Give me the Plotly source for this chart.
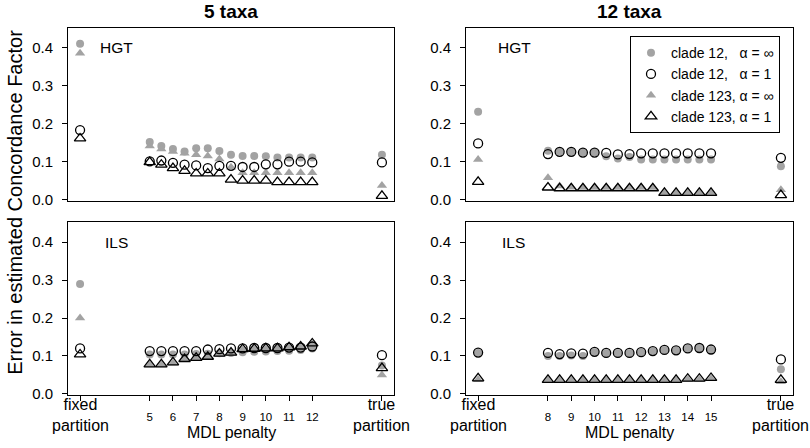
import plotly.graph_objects as go

# ---------------- data ----------------
mdl_5taxa = [5, 5.5, 6, 6.5, 7, 7.5, 8, 8.5, 9, 9.5, 10, 10.5, 11, 11.5, 12]
mdl_12taxa = [8, 8.5, 9, 9.5, 10, 10.5, 11, 11.5, 12, 12.5, 13, 13.5, 14, 14.5, 15]
fixed_5taxa, true_5taxa = 2, 15
fixed_12taxa, true_12taxa = 5, 18
tick_5taxa = [5, 6, 7, 8, 9, 10, 11, 12]
tick_12taxa = [8, 9, 10, 11, 12, 13, 14, 15]
y_ticks = [0.0, 0.1, 0.2, 0.3, 0.4]

# each series: fixed partition, MDL penalties..., true partition
hgt5_c12_inf = [0.410, 0.152, 0.141, 0.133, 0.127, 0.135, 0.135, 0.128, 0.118, 0.115, 0.115, 0.114, 0.111, 0.111, 0.111, 0.111, 0.118]
hgt5_c12_one = [0.183, 0.101, 0.103, 0.097, 0.092, 0.090, 0.083, 0.089, 0.089, 0.086, 0.086, 0.093, 0.093, 0.100, 0.100, 0.098, 0.098]
hgt5_c123_inf = [0.385, 0.141, 0.133, 0.127, 0.122, 0.118, 0.115, 0.107, 0.085, 0.071, 0.071, 0.071, 0.071, 0.071, 0.071, 0.071, 0.037]
hgt5_c123_one = [0.161, 0.099, 0.092, 0.083, 0.076, 0.069, 0.069, 0.069, 0.053, 0.050, 0.050, 0.050, 0.046, 0.046, 0.046, 0.046, 0.010]

hgt12_c12_inf = [0.231, 0.129, 0.127, 0.126, 0.124, 0.124, 0.114, 0.108, 0.112, 0.106, 0.106, 0.106, 0.106, 0.106, 0.106, 0.106, 0.088]
hgt12_c12_one = [0.148, 0.120, 0.126, 0.126, 0.124, 0.124, 0.123, 0.119, 0.120, 0.122, 0.122, 0.122, 0.122, 0.122, 0.122, 0.122, 0.110]
hgt12_c123_inf = [0.106, 0.058, 0.036, 0.033, 0.032, 0.032, 0.032, 0.032, 0.032, 0.032, 0.032, 0.017, 0.017, 0.017, 0.017, 0.017, 0.026]
hgt12_c123_one = [0.047, 0.032, 0.030, 0.030, 0.030, 0.030, 0.030, 0.030, 0.030, 0.030, 0.030, 0.018, 0.018, 0.018, 0.018, 0.018, 0.012]

ils5_c12_inf = [0.290, 0.104, 0.104, 0.104, 0.104, 0.105, 0.106, 0.107, 0.108, 0.110, 0.111, 0.112, 0.113, 0.114, 0.116, 0.120, 0.075]
ils5_c12_one = [0.120, 0.113, 0.113, 0.113, 0.113, 0.113, 0.117, 0.118, 0.120, 0.120, 0.121, 0.121, 0.121, 0.122, 0.122, 0.125, 0.102]
ils5_c123_inf = [0.200, 0.076, 0.076, 0.081, 0.090, 0.093, 0.096, 0.104, 0.107, 0.116, 0.117, 0.118, 0.119, 0.121, 0.123, 0.131, 0.050]
ils5_c123_one = [0.104, 0.078, 0.078, 0.083, 0.092, 0.095, 0.098, 0.106, 0.109, 0.118, 0.119, 0.120, 0.120, 0.123, 0.125, 0.133, 0.068]

ils12_c12_inf = [0.108, 0.100, 0.100, 0.101, 0.100, 0.110, 0.107, 0.107, 0.107, 0.109, 0.112, 0.115, 0.114, 0.119, 0.120, 0.116, 0.065]
ils12_c12_one = [0.109, 0.108, 0.105, 0.107, 0.106, 0.111, 0.108, 0.108, 0.108, 0.110, 0.113, 0.116, 0.115, 0.120, 0.121, 0.117, 0.091]
ils12_c123_inf = [0.037, 0.035, 0.035, 0.035, 0.035, 0.035, 0.035, 0.035, 0.035, 0.035, 0.035, 0.035, 0.035, 0.038, 0.038, 0.040, 0.032]
ils12_c123_one = [0.041, 0.037, 0.037, 0.037, 0.037, 0.037, 0.037, 0.037, 0.037, 0.037, 0.037, 0.037, 0.037, 0.040, 0.040, 0.042, 0.037]

series_names = ["clade 12,\u00a0\u00a0\u00a0α = ∞", "clade 12,\u00a0\u00a0\u00a0α = 1",
                "clade 123, α = ∞", "clade 123, α = 1"]

# ---------------- styling ----------------
FONT = "Liberation Sans, Arial, Helvetica, sans-serif"
GREY = "#a3a3a3"
styles = [
    dict(symbol="circle", color=GREY, size=8, line=dict(width=0)),
    dict(symbol="circle-open", color="black", size=9, line=dict(width=1.3, color="black")),
    dict(symbol="triangle-up", color=GREY, size=9, line=dict(width=0)),
    dict(symbol="triangle-up-open", color="black", size=10, line=dict(width=1.3, color="black")),
]
draw_order = [0, 2, 1, 3]

panels = [
    ("x", "y", [fixed_5taxa] + mdl_5taxa + [true_5taxa], [hgt5_c12_inf, hgt5_c12_one, hgt5_c123_inf, hgt5_c123_one], False),
    ("x2", "y2", [fixed_12taxa] + mdl_12taxa + [true_12taxa], [hgt12_c12_inf, hgt12_c12_one, hgt12_c123_inf, hgt12_c123_one], True),
    ("x3", "y3", [fixed_5taxa] + mdl_5taxa + [true_5taxa], [ils5_c12_inf, ils5_c12_one, ils5_c123_inf, ils5_c123_one], False),
    ("x4", "y4", [fixed_12taxa] + mdl_12taxa + [true_12taxa], [ils12_c12_inf, ils12_c12_one, ils12_c123_inf, ils12_c123_one], False),
]

fig = go.Figure()
for xa, ya, xs, ser, show in panels:
    for k in draw_order:
        fig.add_trace(go.Scatter(
            x=xs, y=ser[k], xaxis=xa, yaxis=ya, mode="markers",
            marker=styles[k], name=series_names[k], showlegend=show,
            legendrank=k + 1, hoverinfo="skip"))

W, H = 810, 448
def px(x): return x / W
def py(y): return 1 - y / H

xdom_l = [px(68), px(394)]
xdom_r = [px(466), px(793)]
ydom_t = [py(204), py(28.3)]
ydom_b = [py(401.3), py(226)]
yr = [-0.003, 0.452]

common_axis = dict(showline=True, linecolor="black", linewidth=1, mirror=True,
                   showgrid=False, zeroline=False)
yaxis_common = dict(common_axis, range=yr, tickvals=y_ticks, tickformat=".1f",
                    ticks="outside", ticklen=5, tickwidth=1, tickcolor="black",
                    tickfont=dict(size=15, color="black", family=FONT),
                    ticklabelstandoff=6)

def xaxis_bottom(dom, rng, fixed, true, ticks, anchor):
    return dict(common_axis, domain=dom, range=rng, anchor=anchor,
                tickvals=[fixed] + ticks + [true],
                ticktext=[""] + [str(t) for t in ticks] + [""],
                ticks="outside", ticklen=5, tickwidth=1, tickcolor="black",
                tickfont=dict(size=11.5, color="black", family=FONT),
                ticklabelstandoff=6)

fig.update_layout(
    width=W, height=H, margin=dict(l=0, r=0, t=0, b=0),
    paper_bgcolor="white", plot_bgcolor="white",
    font=dict(family=FONT, color="black"),
    xaxis=dict(common_axis, domain=xdom_l, range=[1.48, 15.52], anchor="y",
               showticklabels=False, ticks=""),
    xaxis2=dict(common_axis, domain=xdom_r, range=[4.48, 18.52], anchor="y2",
                showticklabels=False, ticks=""),
    xaxis3=xaxis_bottom(xdom_l, [1.48, 15.52], fixed_5taxa, true_5taxa, tick_5taxa, "y3"),
    xaxis4=xaxis_bottom(xdom_r, [4.48, 18.52], fixed_12taxa, true_12taxa, tick_12taxa, "y4"),
    yaxis=dict(yaxis_common, domain=ydom_t, anchor="x"),
    yaxis2=dict(yaxis_common, domain=ydom_t, anchor="x2"),
    yaxis3=dict(yaxis_common, domain=ydom_b, anchor="x3"),
    yaxis4=dict(yaxis_common, domain=ydom_b, anchor="x4"),
    legend=dict(x=px(630), y=py(36.7), xanchor="left", yanchor="top",
                bordercolor="black", borderwidth=1, bgcolor="white",
                font=dict(size=14, color="black", family=FONT),
                itemwidth=30, tracegroupgap=0),
)

def A(**kw):
    d = dict(showarrow=False, xanchor="center", yanchor="middle")
    d.update(kw)
    return d

ann = []
ann.append(A(text="<b>5 taxa</b>", x=px(231), y=py(12), xref="paper", yref="paper", font=dict(size=19)))
ann.append(A(text="<b>12 taxa</b>", x=px(629.5), y=py(12), xref="paper", yref="paper", font=dict(size=19)))
ann.append(A(text="Error in estimated Concordance Factor", textangle=-90,
             x=px(15), y=py(206), xref="paper", yref="paper", font=dict(size=20)))
for xr, xv, lab in [("x", 2.77, "HGT"), ("x2", 5.77, "HGT"), ("x3", 3.0, "ILS"), ("x4", 5.94, "ILS")]:
    ann.append(A(text=lab, x=xv, y=0.40, xref=xr, yref="y" + xr[1:], xanchor="left", font=dict(size=15.5)))
for xr, xv, lab in [("x3", fixed_5taxa, "fixed<br>partition"), ("x3", true_5taxa, "true<br>partition"),
                    ("x4", fixed_12taxa, "fixed<br>partition"), ("x4", true_12taxa, "true<br>partition")]:
    ann.append(A(text=lab, x=xv, y=py(421.7), xref=xr, yref="paper", font=dict(size=16)))
ann.append(A(text="MDL penalty", x=px(231), y=py(439), xref="paper", yref="paper", font=dict(size=16)))
ann.append(A(text="MDL penalty", x=px(629.5), y=py(439), xref="paper", yref="paper", font=dict(size=16)))
fig.update_layout(annotations=ann)

fig.write_html("out.html", config={"displayModeBar": False},
               post_script="document.body.style.margin='0';document.body.style.overflow='hidden';")
